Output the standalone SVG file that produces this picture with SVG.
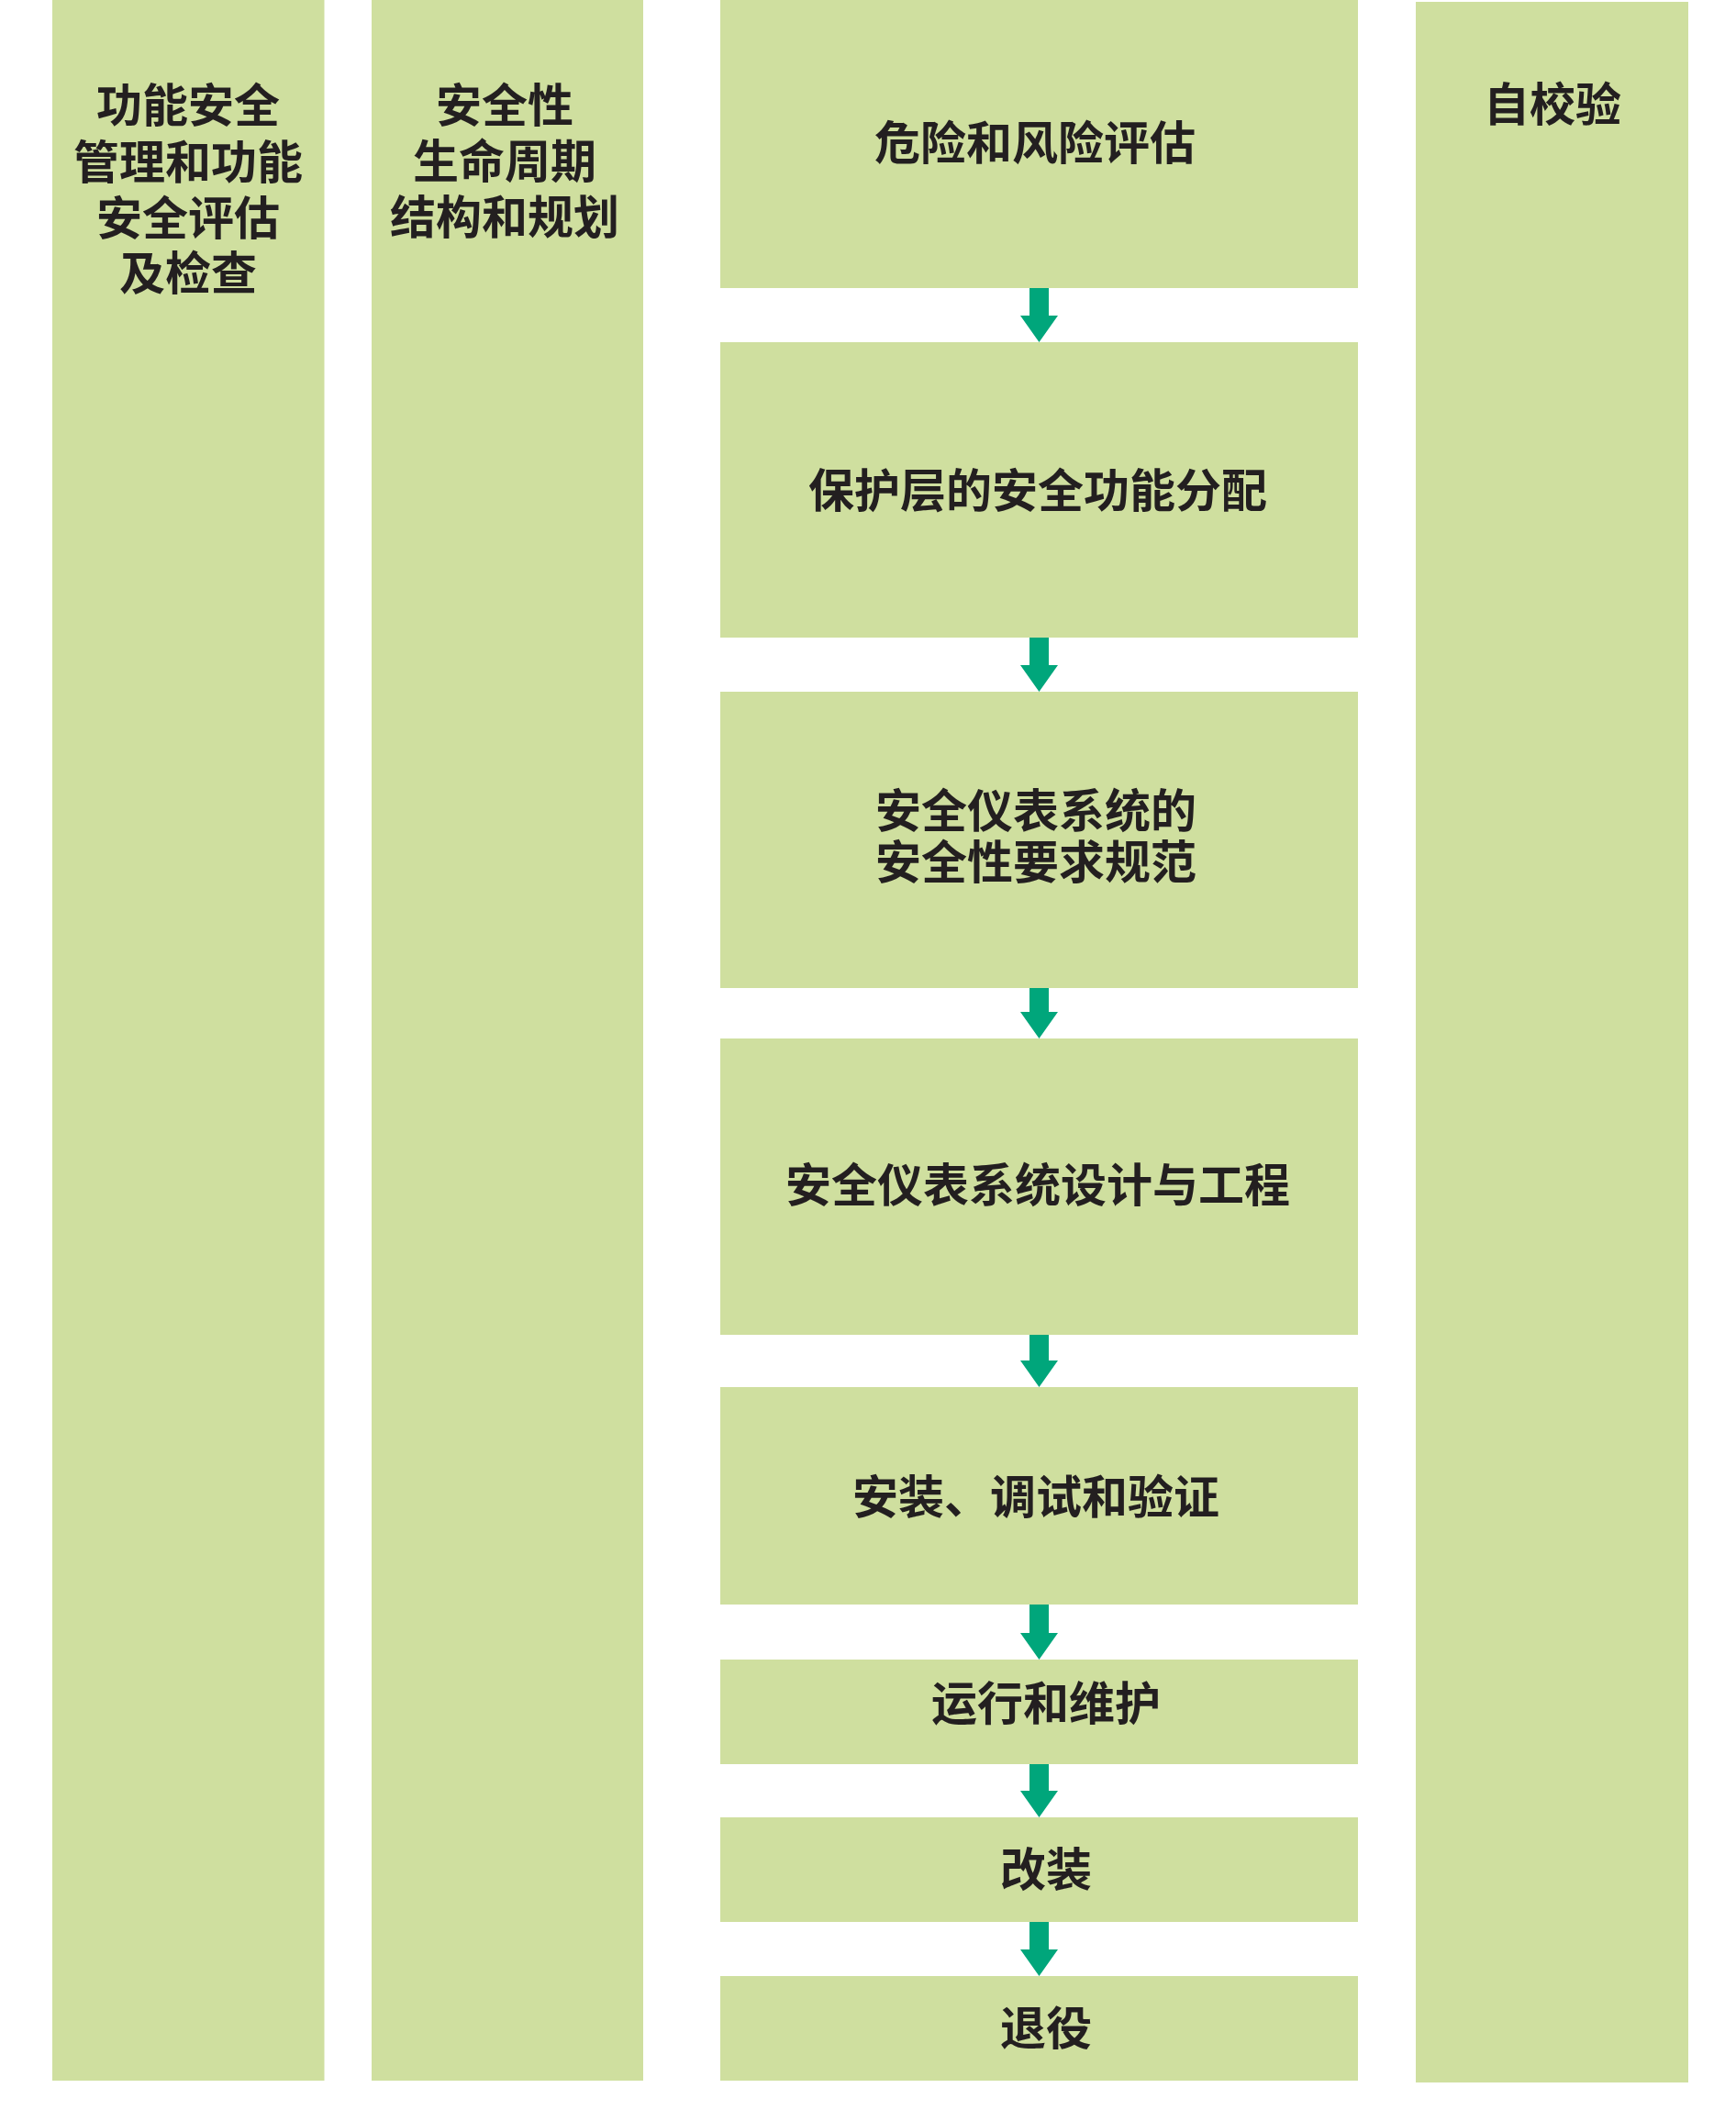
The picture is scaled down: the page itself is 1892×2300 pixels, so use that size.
<svg xmlns="http://www.w3.org/2000/svg" width="1892" height="2300" viewBox="0 0 1892 2300">
<style>
.box{fill:#cfdf9f}
.arr{fill:#00a67b}
.t{font-family:"Noto Sans CJK SC","Noto Sans CJK JP",sans-serif;font-weight:700;font-size:50px;fill:#231f20;text-anchor:middle}
</style>
<rect width="1892" height="2300" fill="#ffffff"/>
<g id="col-management">
<rect class="box" x="57" y="0" width="296.5" height="2268"/>
<text class="t" x="205" y="133">功能安全</text>
<text class="t" x="205" y="195">管理和功能</text>
<text class="t" x="205" y="256">安全评估</text>
<text class="t" x="205" y="316">及检查</text>
</g>
<g id="col-lifecycle">
<rect class="box" x="405" y="0" width="296" height="2268"/>
<text class="t" x="550" y="133">安全性</text>
<text class="t" x="550" y="194">生命周期</text>
<text class="t" x="550" y="255">结构和规划</text>
</g>
<g id="col-verification">
<rect class="box" x="1543" y="2" width="297" height="2268"/>
<text class="t" x="1692" y="132">自校验</text>
</g>
<g id="step1">
<rect class="box" x="785" y="0" width="695" height="314"/>
<text class="t" x="1128" y="174">危险和风险评估</text>
</g>
<g id="step2">
<rect class="box" x="785" y="373" width="695" height="322"/>
<text class="t" x="1131" y="553">保护层的安全功能分配</text>
</g>
<g id="step3">
<rect class="box" x="785" y="754" width="695" height="323"/>
<text class="t" x="1129" y="902">安全仪表系统的</text>
<text class="t" x="1129" y="958">安全性要求规范</text>
</g>
<g id="step4">
<rect class="box" x="785" y="1132" width="695" height="323"/>
<text class="t" x="1131" y="1310">安全仪表系统设计与工程</text>
</g>
<g id="step5">
<rect class="box" x="785" y="1512" width="695" height="237"/>
<text class="t" x="1129" y="1650">安装、调试和验证</text>
</g>
<g id="step6">
<rect class="box" x="785" y="1809" width="695" height="114"/>
<text class="t" x="1140" y="1875">运行和维护</text>
</g>
<g id="step7">
<rect class="box" x="785" y="1981" width="695" height="114"/>
<text class="t" x="1140" y="2056">改装</text>
</g>
<g id="step8">
<rect class="box" x="785" y="2154" width="695" height="114"/>
<text class="t" x="1140" y="2229">退役</text>
</g>
<g id="connectors">
<path class="arr" d="M1122,314 H1143 V344 H1153 L1132.5,373 L1112,344 H1122 Z"/>
<path class="arr" d="M1122,695 H1143 V725 H1153 L1132.5,754 L1112,725 H1122 Z"/>
<path class="arr" d="M1122,1077 H1143 V1103 H1153 L1132.5,1132 L1112,1103 H1122 Z"/>
<path class="arr" d="M1122,1455 H1143 V1483 H1153 L1132.5,1512 L1112,1483 H1122 Z"/>
<path class="arr" d="M1122,1749 H1143 V1780 H1153 L1132.5,1809 L1112,1780 H1122 Z"/>
<path class="arr" d="M1122,1923 H1143 V1952 H1153 L1132.5,1981 L1112,1952 H1122 Z"/>
<path class="arr" d="M1122,2095 H1143 V2125 H1153 L1132.5,2154 L1112,2125 H1122 Z"/>
</g>
</svg>
